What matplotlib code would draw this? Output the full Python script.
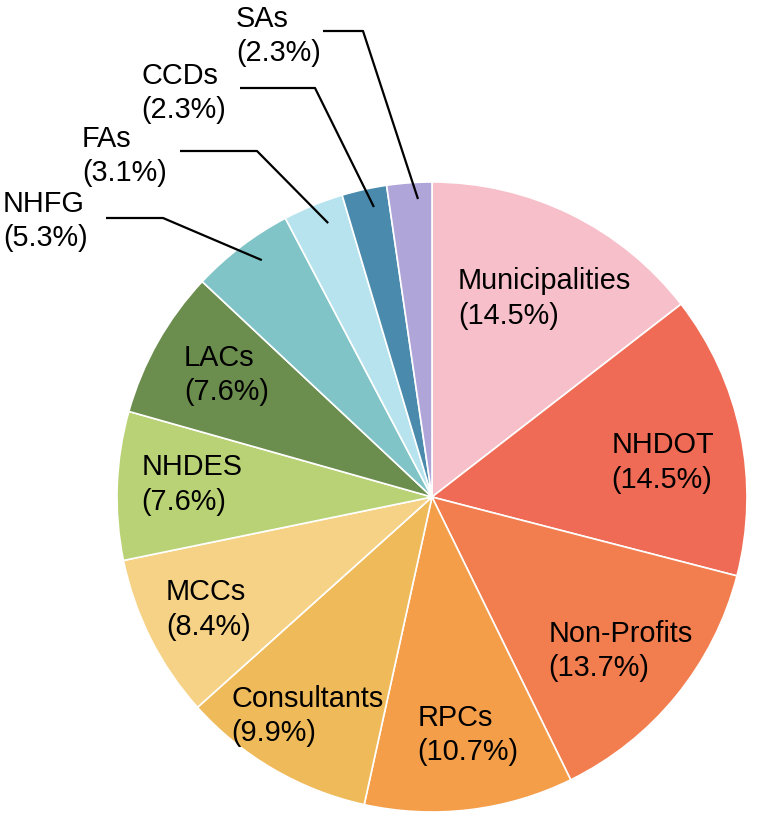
import numpy as np
import matplotlib
matplotlib.use("Agg")
import matplotlib.pyplot as plt

categories = ["Municipalities", "NHDOT", "Non-Profits", "RPCs", "Consultants", "MCCs",
              "NHDES", "LACs", "NHFG", "FAs", "CCDs", "SAs"]
shares = [14.5, 14.5, 13.7, 10.7, 9.9, 8.4, 7.6, 7.6, 5.3, 3.1, 2.3, 2.3]
colors = ["#F7BFC9", "#F06B55", "#F27D4F", "#F49E4A", "#EFBA5A", "#F6D286",
          "#BAD276", "#6B8E4E", "#80C4C8", "#B7E3EE", "#4A8BAD", "#B0A5D8"]

# label layout: inside labels -> (radius fraction, angle offset in degrees from wedge middle)
inside_pos = {"Municipalities": (0.724, -3.4), "NHDOT": (0.740, -3.1),
              "Non-Profits": (0.773, 0.0), "RPCs": (0.764, 1.75),
              "Consultants": (0.800, 0.6), "MCCs": (0.795, 0.0),
              "NHDES": (0.764, -0.9), "LACs": (0.759, -1.2)}
CX, CY, R = 432.0, 497.0, 315.0
def px(x, y):
    return (x - CX) / R, (CY - y) / R
# outside labels: text left / center-y px, line y px, line x start px, elbow x px,
# leader end (radius fraction, angle offset)
outside = {
    "NHFG": (3, 221, 218, 106, 163, 0.926, -1.6),
    "FAs": (82, 156, 151, 180, 257, 0.930, -1.4),
    "CCDs": (141, 93, 88, 240, 315, 0.939, -1.1),
    "SAs": (236, 36, 31, 323, 363, 0.947, -1.45),
}

W, H = 757, 822
fig = plt.figure(figsize=(W / 100, H / 100), dpi=100)
ax = fig.add_axes([0, 0, 1, 1])
wedges, _ = ax.pie(shares, colors=colors, startangle=90, counterclock=False,
                   radius=1.0, center=(0, 0),
                   wedgeprops=dict(edgecolor="white", linewidth=1.2))
ax.set_xlim(-CX / R, (W - CX) / R)
ax.set_ylim(-(H - CY) / R, CY / R)
ax.set_aspect("equal")
ax.axis("off")

font = dict(family=["Liberation Sans", "DejaVu Sans"], fontsize=20.8, color="black")
LS = 1.3

for w, name, val in zip(wedges, categories, shares):
    mid_deg = (w.theta1 + w.theta2) / 2.0
    label = f"{name}\n({val:.1f}%)"
    if name in inside_pos:
        f, d = inside_pos[name]
        a = np.deg2rad(mid_deg + d)
        ax.text(f * np.cos(a), f * np.sin(a), label, ha="center", va="center",
                multialignment="left", linespacing=LS, **font)
    else:
        tx, ty, ly, lx0, lx1, f, d = outside[name]
        x0, y0 = px(tx, ty)
        ax.text(x0, y0, label, ha="left", va="center", multialignment="left",
                linespacing=LS, **font)
        a = np.deg2rad(mid_deg + d)
        wx, wy = f * np.cos(a), f * np.sin(a)
        p, q = px(lx0, ly)
        r_, _ = px(lx1, ly)
        ax.plot([p, r_, wx], [q, q, wy], color="black", linewidth=1.6,
                solid_capstyle="butt", zorder=5)

fig.savefig("out.png", dpi=100)
